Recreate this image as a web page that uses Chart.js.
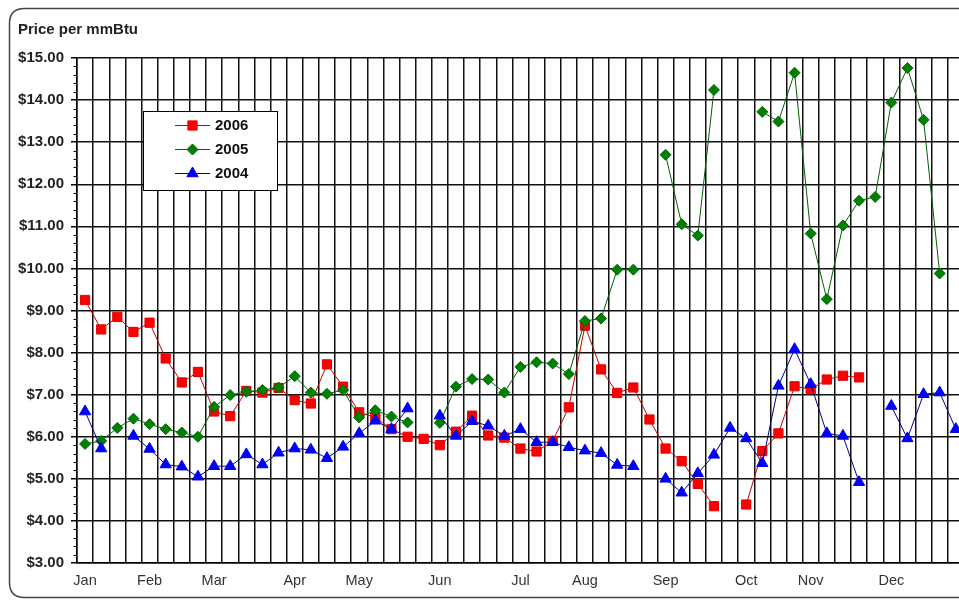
<!DOCTYPE html>
<html><head><meta charset="utf-8">
<script src="https://cdn.jsdelivr.net/npm/chart.js@4.4.0/dist/chart.umd.min.js"></script>
<style>
html,body{margin:0;padding:0;background:#fff;overflow:hidden;}
#wrap{position:relative;width:1000px;height:601px;}
</style></head><body>
<div id="wrap"><canvas id="c"></canvas></div>
<script>
const weekLabels = [
  'Jan','','','',
  'Feb','','','',
  'Mar','','','','',
  'Apr','','','',
  'May','','','','',
  'Jun','','','','',
  'Jul','','','',
  'Aug','','','','',
  'Sep','','','','',
  'Oct','','','',
  'Nov','','','','',
  'Dec','','','','',''
];
const seriesNames = ['2006','2005','2004'];
const s2006 = [9.25,8.55,8.85,8.49,8.71,7.86,7.29,7.54,6.60,6.49,7.09,7.05,7.16,6.87,6.79,7.72,7.19,6.58,6.46,6.18,
  6.00,5.95,5.80,6.12,6.50,6.03,5.98,5.72,5.65,5.90,6.70,8.64,7.60,7.04,7.17,6.41,5.72,5.42,4.88,4.35,
  null,4.39,5.66,6.08,7.20,7.13,7.36,7.45,7.41,null,null,null,null,null,null,null];
const s2005 = [5.83,5.90,6.21,6.43,6.30,6.18,6.10,6.00,6.71,6.99,7.07,7.11,7.17,7.44,7.05,7.02,7.11,6.46,6.63,6.48,
  6.34,null,6.33,7.19,7.37,7.36,7.05,7.66,7.77,7.74,7.49,8.75,8.81,9.97,9.97,null,12.70,11.05,10.78,14.24,
  null,null,13.72,13.49,14.65,10.83,9.27,11.02,11.61,11.70,13.94,14.76,13.53,9.88,null,null];
const s2004 = [6.60,5.72,null,6.02,5.71,5.34,5.29,5.05,5.30,5.30,5.58,5.34,5.62,5.72,5.69,5.49,5.76,6.08,6.38,6.18,
  6.67,null,6.50,6.02,6.37,6.26,6.02,6.18,5.87,5.87,5.75,5.67,5.61,5.33,5.30,null,5.00,4.67,5.13,5.57,
  6.21,5.96,5.37,7.21,8.08,7.25,6.08,6.02,4.92,null,6.73,5.96,7.01,7.05,6.18,null];
const yMin = 3, yMax = 15, yStep = 1, yMinorStep = 0.2;

const FONT = "'Liberation Sans', Arial, sans-serif";

const frame = {
  id: 'frame',
  beforeDraw(chart) {
    const ctx = chart.ctx;
    ctx.save();
    ctx.fillStyle = '#fff';
    ctx.fillRect(0, 0, chart.width, chart.height);
    const l = 9.5, t = 8.5, b = 597.5, r = chart.width + 40, rad = 15;
    ctx.beginPath();
    ctx.moveTo(r, t);
    ctx.lineTo(l + rad, t);
    ctx.quadraticCurveTo(l, t, l, t + rad);
    ctx.lineTo(l, b - rad);
    ctx.quadraticCurveTo(l, b, l + rad, b);
    ctx.lineTo(r, b);
    ctx.strokeStyle = '#444';
    ctx.lineWidth = 1.5;
    ctx.stroke();
    ctx.restore();
  }
};

const minorTicks = {
  id: 'minorTicks',
  afterDraw(chart) {
    const y = chart.scales.y, ctx = chart.ctx;
    const left = chart.chartArea.left;
    ctx.save();
    ctx.strokeStyle = '#000';
    ctx.lineWidth = 1;
    for (let v = yMin; v <= yMax + 1e-9; v += yMinorStep) {
      if (Math.abs(v - Math.round(v)) < 1e-6) continue;
      const py = Math.round(y.getPixelForValue(v)) + 0.5;
      ctx.beginPath();
      ctx.moveTo(left - 3.5, py);
      ctx.lineTo(left, py);
      ctx.stroke();
    }
    ctx.restore();
  }
};

const boxLegend = {
  id: 'boxLegend',
  afterDraw(chart) {
    const ctx = chart.ctx;
    const bx = 143.5, by = 111.5, bw = 134, bh = 79;
    ctx.save();
    ctx.fillStyle = '#fff';
    ctx.fillRect(bx, by, bw, bh);
    ctx.strokeStyle = '#000';
    ctx.lineWidth = 1;
    ctx.strokeRect(bx, by, bw, bh);
    chart.data.datasets.forEach((ds, i) => {
      const cy = 125 + i * 24;
      ctx.beginPath();
      ctx.strokeStyle = ds.borderColor;
      ctx.lineWidth = 1;
      ctx.moveTo(175, cy + 0.5);
      ctx.lineTo(210, cy + 0.5);
      ctx.stroke();
      ctx.fillStyle = ds.pointBackgroundColor;
      ctx.strokeStyle = ds.pointBorderColor;
      Chart.helpers.drawPoint(ctx, {pointStyle: ds.pointStyle, radius: ds.pointRadius, rotation: 0, borderWidth: 1}, 192.5, cy + 0.5);
      ctx.fillStyle = '#111';
      ctx.font = 'bold 15px ' + FONT;
      ctx.textBaseline = 'middle';
      ctx.textAlign = 'left';
      ctx.fillText(ds.label, 215, cy + 1);
    });
    ctx.restore();
  }
};

new Chart(document.getElementById('c'), {
  type: 'line',
  data: {
    labels: weekLabels,
    datasets: [
      {label: seriesNames[0], data: s2006, borderColor: '#c80000', borderWidth: 1,
       pointStyle: 'rect', pointRadius: 6.5, pointBackgroundColor: '#ff0000', pointBorderColor: '#e00000', pointBorderWidth: 1,
       spanGaps: false, tension: 0, order: 3},
      {label: seriesNames[1], data: s2005, borderColor: '#006000', borderWidth: 1,
       pointStyle: 'rectRot', pointRadius: 5.5, pointBackgroundColor: '#008000', pointBorderColor: '#006a00', pointBorderWidth: 1,
       spanGaps: false, tension: 0, order: 2},
      {label: seriesNames[2], data: s2004, borderColor: '#000090', borderWidth: 1,
       pointStyle: 'triangle', pointRadius: 6.5, pointBackgroundColor: '#0000ff', pointBorderColor: '#0000e0', pointBorderWidth: 1,
       spanGaps: false, tension: 0, order: 1}
    ]
  },
  options: {
    responsive: true,
    maintainAspectRatio: false,
    animation: false,
    events: [],
    layout: {padding: {left: 18, top: 12, right: 20, bottom: 11}},
    plugins: {
      legend: {display: false},
      tooltip: {enabled: false},
      title: {display: true, text: 'Price per mmBtu', align: 'start', color: '#222',
        font: {family: FONT, size: 15, weight: 'bold'}, padding: {top: 9, bottom: 19}}
    },
    scales: {
      x: {
        type: 'category', offset: true,
        grid: {offset: true, color: '#111', lineWidth: 1.5, drawTicks: false},
        border: {display: true, color: '#000', width: 1.5},
        ticks: {autoSkip: false, maxRotation: 0, minRotation: 0, padding: 9, color: '#333',
          font: {family: FONT, size: 14.5}},
        afterFit(s) { s.height = 27; }
      },
      y: {
        min: yMin, max: yMax,
        grid: {color: '#111', lineWidth: 1.5, tickLength: 6, tickColor: '#000'},
        border: {display: true, color: '#000', width: 1.5},
        ticks: {stepSize: yStep, padding: 7, color: '#222',
          font: {family: FONT, size: 15, weight: 'bold'},
          callback: v => '$' + Number(v).toFixed(2)},
        afterFit(s) { s.width = 59; }
      }
    }
  },
  plugins: [frame, minorTicks, boxLegend]
});
</script>
</body></html>
